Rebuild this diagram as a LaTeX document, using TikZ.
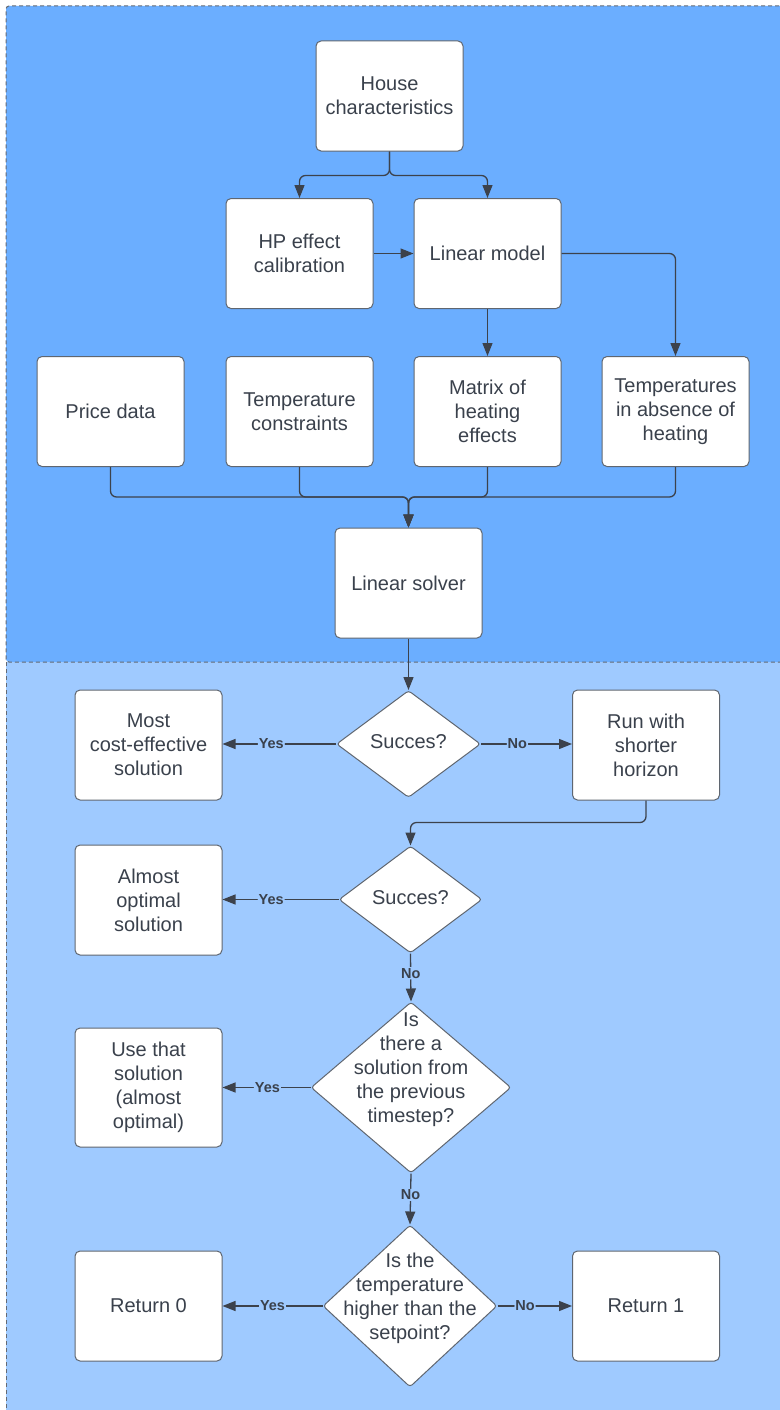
\documentclass[tikz,border=0pt]{standalone}
\usepackage{fontspec}
\setmainfont{Liberation Sans}
\usetikzlibrary{shapes.geometric,arrows.meta}
\definecolor{topbg}{RGB}{107,174,255}
\definecolor{botbg}{RGB}{159,202,255}
\definecolor{txt}{RGB}{58,65,76}
\definecolor{ln}{RGB}{60,66,76}
\definecolor{bd}{RGB}{95,102,112}
\definecolor{dashc}{RGB}{100,106,116}
\tikzset{
 box/.style={draw=bd, line width=1pt, fill=white, rounded corners=5pt, minimum width=147pt, minimum height=110pt, inner sep=0pt, align=center, text=txt, font=\fontsize{20}{24}\selectfont},
 dia/.style={draw=bd, line width=1pt, fill=white, shape=diamond, inner sep=0pt, rounded corners=3pt},
 dtxt/.style={align=center, text=txt, font=\fontsize{20}{24}\selectfont, inner sep=0pt},
 conn/.style={draw=ln, line width=1.3pt, rounded corners=6pt, -{Triangle[length=13pt,width=10pt]}},
 lab/.style={font=\bfseries\fontsize{14.5}{16}\selectfont, text=txt, inner sep=1pt, fill=botbg},
 region/.style={draw=dashc, line width=1pt, dash pattern=on 4pt off 3pt},
}
\begin{document}
\begin{tikzpicture}[x=1pt,y=-1pt]
\useasboundingbox (0,0) rectangle (779,1410);
% regions
\fill[topbg, rounded corners=3pt] (6,6) rectangle (800,662);
\fill[botbg] (6,662) rectangle (800,1420);
\draw[region, rounded corners=3pt] (800,6) -- (6,6) -- (6,662) -- (800,662);
\draw[region] (6,662) -- (6,1420);

% nodes
\node[box] (house) at (389.5,96) {House\\characteristics};
\node[box] (hp) at (299.5,253.5) {HP effect\\calibration};
\node[box] (lin) at (487.5,253.5) {Linear model};
\node[box] (price) at (110.5,411.5) {Price data};
\node[box] (tcon) at (299.5,411.5) {Temperature\\constraints};
\node[box] (mat) at (487.5,411.5) {Matrix of\\heating\\effects};
\node[box] (tabs) at (675.5,411.5) {Temperatures\\in absence of\\heating};
\node[box] (solver) at (408.5,583) {Linear solver};
\coordinate (merge) at (408.5,497);

\node[box] (most) at (148.5,745) {Most\\cost-effective\\solution};
\node[dia, minimum width=144pt, minimum height=107pt] (d1) at (408.5,744) {};
\node[dtxt] (d1t) at (408.5,742) {Succes?};
\node[box] (run) at (646,745) {Run with\\shorter\\horizon};

\node[box] (almost) at (148.5,900) {Almost\\optimal\\solution};
\node[dia, minimum width=143pt, minimum height=107pt] (d2) at (410.5,899.5) {};
\node[dtxt] (d2t) at (410.5,898) {Succes?};

\node[box, minimum height=119pt] (use) at (148.5,1087.5) {Use that\\solution\\(almost\\optimal)};
\node[dia, minimum width=200pt, minimum height=171pt] (d3) at (411,1087.5) {};
\node[dtxt] (d3t) at (411,1070) {Is\\there a\\solution from\\the previous\\timestep?};

\node[box] (ret0) at (148.5,1306) {Return 0};
\node[dia, minimum width=174pt, minimum height=162pt] (d4) at (410,1306) {};
\node[dtxt] (d4t) at (410,1298) {Is the\\temperature\\higher than the\\setpoint?};
\node[box] (ret1) at (646,1306) {Return 1};

% connectors top
\draw[conn] (house.south) -- ++(0,24) -| (hp.north);
\draw[conn] (house.south) -- ++(0,24) -| (lin.north);
\draw[conn] (hp.east) -- (lin.west);
\draw[conn] (lin.south) -- (mat.north);
\draw[conn] (lin.east) -| (tabs.north);
\draw[conn] (price.south) |- (merge) -- (solver.north);
\draw[conn] (tcon.south) |- (merge) -- (solver.north);
\draw[conn] (mat.south) |- (merge) -- (solver.north);
\draw[conn] (tabs.south) |- (merge) -- (solver.north);
\draw[conn] (solver.south) -- (d1.north);

% connectors bottom
\draw[conn] (d1.west) -- node[lab,pos=0.57]{Yes} (most.east |- d1.west);
\draw[conn] (d1.east) -- node[lab,pos=0.40]{No} (run.west |- d1.east);
\draw[conn] (run.south) -- ++(0,22) -| (d2.north);
\draw[conn] (d2.west) -- node[lab,pos=0.58]{Yes} (almost.east |- d2.west);
\draw[conn] (d2.south) -- node[lab,pos=0.41]{No} (d3.north);
\draw[conn] (d3.west) -- node[lab,pos=0.49]{Yes} (use.east |- d3.west);
\draw[conn] (d3.south) -- node[lab,pos=0.42]{No} (d4.north);
\draw[conn] (d4.west) -- node[lab,pos=0.5]{Yes} (ret0.east |- d4.west);
\draw[conn] (d4.east) -- node[lab,pos=0.37]{No} (ret1.west |- d4.east);
\end{tikzpicture}
\end{document}
